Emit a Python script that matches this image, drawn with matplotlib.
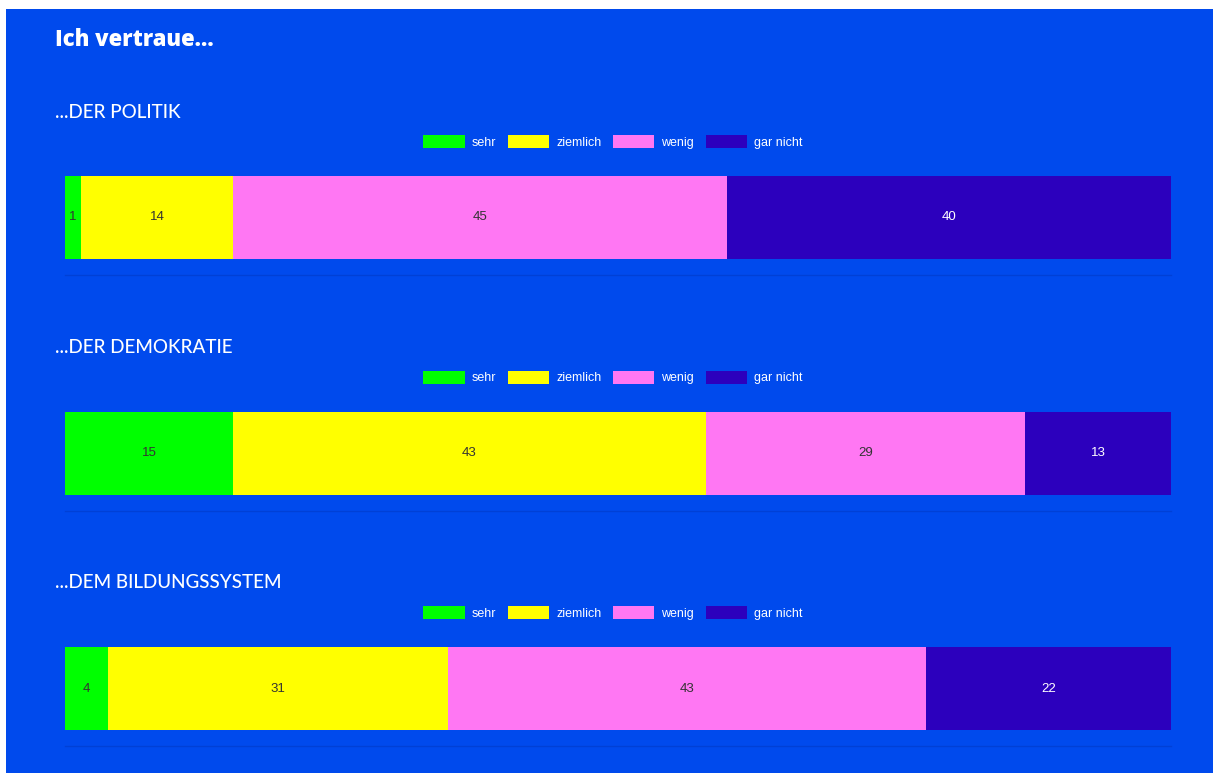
import matplotlib
matplotlib.use("Agg")
import matplotlib.pyplot as plt
from matplotlib.patches import Rectangle, Patch

# Data (shares in percent; labels show rounded values)
title = "Ich vertraue..."
sections = ["...DER POLITIK", "...DER DEMOKRATIE", "...DEM BILDUNGSSYSTEM"]
categories = ["sehr", "ziemlich", "wenig", "gar nicht"]
politik = [1.45, 13.74, 44.67, 40.14]
demokratie = [15.19, 42.77, 28.84, 13.20]
bildung = [3.89, 30.74, 43.22, 22.15]
values = [politik, demokratie, bildung]

colors = ["#00FF00", "#FFFF00", "#FF77F3", "#2C00BD"]
label_colors = ["#333333", "#333333", "#333333", "#FFFFFF"]
bg = "#004AED"

W, H = 1213, 773
fig = plt.figure(figsize=(W / 100, H / 100), dpi=100)
fig.patch.set_facecolor("white")
fig.patches.append(Rectangle((6 / W, 0), 1 - 6 / W, 1 - 9 / H,
                             transform=fig.transFigure, facecolor=bg,
                             edgecolor="none", zorder=-5))

def fx(px):
    return px / W

def fy(py):
    return 1 - py / H

fig.text(fx(55), fy(40), title, color="white", fontsize=15.8, fontweight="heavy",
         family="Open Sans", va="center", ha="left")

step = 235.5
for i, (sec, vals) in enumerate(zip(sections, values)):
    off = i * step
    fig.text(fx(55), fy(112 + off), sec, color="white", fontsize=13.6,
             family="Lato", fontweight="medium", va="center", ha="left")
    # axes from bar top (176) to baseline (275)
    top, bottom = 176 + off, 275 + off
    ax = fig.add_axes([fx(65), fy(bottom), fx(1171) - fx(65), (bottom - top) / H])
    ax.set_facecolor("none")
    ax.set_zorder(2)
    ax.set_xlim(0, 100)
    ax.set_ylim(0, 1)
    left = 0
    bar_h = 83 / 99
    for v, c, lc in zip(vals, colors, label_colors):
        ax.barh(1 - bar_h / 2, v, left=left, height=bar_h, color=c,
                edgecolor="none")
        ax.text(left + v / 2, 1 - bar_h / 2, f"{v:.0f}", ha="center", va="center",
                color=lc, fontsize=9.5, family="Liberation Sans")
        left += v
    for s in ["top", "right", "left"]:
        ax.spines[s].set_visible(False)
    ax.spines["bottom"].set_color("#0040D6")
    ax.spines["bottom"].set_linewidth(1)
    ax.set_xticks([])
    ax.set_yticks([])
    handles = [Patch(facecolor=c, edgecolor="none", label=l)
               for c, l in zip(colors, categories)]
    fig.legend(handles=handles, loc="center", bbox_to_anchor=(fx(613), fy(142 + off)),
               ncol=4, frameon=False, handlelength=3.3, handleheight=1.2,
               handletextpad=0.55, columnspacing=0.95,
               prop={"family": "Liberation Sans", "size": 9},
               labelcolor="white")

fig.savefig("out.png", dpi=100, facecolor=fig.get_facecolor())
